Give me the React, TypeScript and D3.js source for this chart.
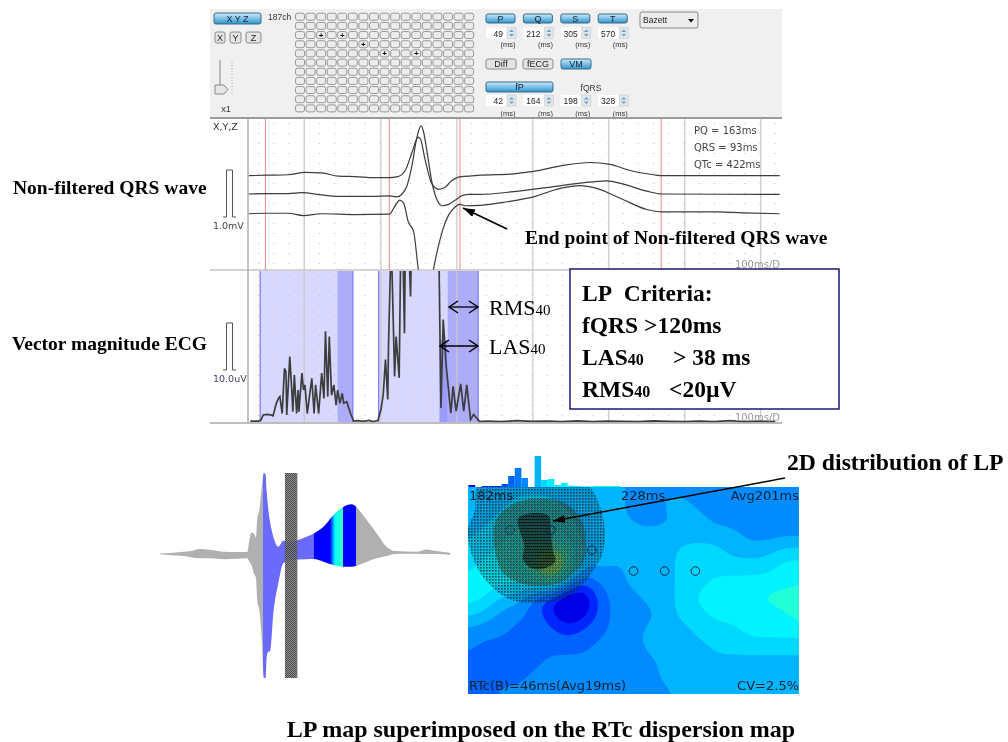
import * as d3 from "d3";

// R-T timing markers and other labels
const markerLines = [49, 212, 305, 570];
const timeGridLines = [100, 201, 301, 401, 501, 601, 701];
const resultLabels = ["PQ = 163ms", "QRS = 93ms", "QTc = 422ms"];
const waveButtons = ["P", "Q", "S", "T"];
const waveValues = ["49", "212", "305", "570"];
const filterValues = ["42", "164", "198", "328"];
const markedChannels = [[2, 2], [2, 4], [3, 6], [4, 8], [4, 11]];

// non-filtered X, Y, Z traces (ms, mV from each trace's own baseline)
const traceATimes = [27, 50, 79, 101, 123, 145, 167, 193, 212, 223, 233, 242, 250, 253, 259, 268, 277, 286, 294, 303, 332, 376, 402, 441, 476, 503, 529, 560, 571, 726];
const traceAValues = [0, 0.01, 0.02, 0.07, 0.06, -0.01, -0.02, -0.04, -0.04, -0.02, 0.11, 0.5, 0.82, 0.78, 0.35, -0.17, -0.29, -0.24, -0.11, -0.03, 0.01, 0.04, 0.09, 0.22, 0.28, 0.24, 0.11, 0.02, 0, 0];
const traceBTimes = [27, 50, 79, 97, 123, 145, 189, 212, 222, 228, 235, 242, 248, 254, 257, 261, 268, 275, 281, 290, 299, 307, 316, 332, 376, 419, 463, 498, 520, 551, 571, 726];
const traceBValues = [0, 0.01, 0.01, 0.03, -0.02, -0.05, -0.05, -0.04, -0.06, -0.01, 0.16, 0.62, 1.18, 1.45, 1.33, 0.97, 0.26, -0.13, -0.25, -0.22, -0.13, -0.04, -0.01, -0.01, 0.05, 0.135, 0.23, 0.28, 0.21, 0.06, 0, -0.01];
const traceCTimes = [27, 50, 79, 99, 123, 167, 212, 220, 226, 231, 237, 244, 250, 254, 264, 270, 277, 283, 290, 299, 305, 312, 332, 367, 402, 437, 463, 485, 516, 551, 571, 639, 678, 726];
const traceCValues = [0, 0.01, 0.01, -0.04, 0, -0.02, -0.01, 0.18, 0.29, 0.22, -0.17, -0.38, -1.16, -1.66, -1.87, -1.2, -0.67, -0.31, -0.03, 0.15, 0.2, 0.17, 0.18, 0.255, 0.36, 0.54, 0.6, 0.54, 0.33, 0.09, 0.04, 0.04, 0.02, 0];

// vector magnitude ECG (ms, uV)
const vmTimes = [29, 40, 43, 46, 51, 56, 59, 63, 66, 68, 71, 74, 76, 77, 81, 84, 85, 87, 90, 92, 93, 97, 99, 101, 104, 110, 113, 115, 119, 123, 126, 128, 131, 133, 136, 139, 142, 144, 147, 150, 152, 156, 161, 165, 170, 178, 186, 190, 197, 201, 204, 207, 210, 211, 214, 215, 219, 221, 225, 227, 230, 232, 233, 238, 240, 241, 260, 277, 280, 283, 287, 293, 296, 300, 306, 310, 314, 319, 323, 331, 340, 360, 380, 400, 420, 440, 460, 480, 500, 520, 540, 560, 580, 600, 620, 640, 660, 680, 700, 720];
const vmValues = [0.2, 0.2, 0.4, 1.5, 1.6, 1.5, 1.3, 3.8, 5, 5.4, 1.8, 11.4, 10.7, 1.5, 13.9, 5.7, 2.2, 10, 1.8, 6.8, 2.2, 10.4, 6.8, 7.9, 1.8, 9.3, 1.8, 7.9, 1.8, 10.4, 5, 19.3, 5.4, 18.2, 5.7, 7.9, 3.6, 6.8, 4, 6.1, 4, 4.3, 1.8, 0.2, 0.3, 0.15, 0.35, 0.1, 0.3, 2.6, 5.8, 13.3, 4.8, 16.5, 36, 36, 9.7, 18.2, 9.4, 36, 36, 18.9, 36, 36, 26.7, 36, 80, 40, 3, 21.8, 11.8, 1.9, 7.6, 2.3, 8.1, 2.3, 7.9, 0.5, 1.6, 0.1, 0.2, 0.1, 0.3, 0.15, 0.2, 0.1, 0.25, 0.1, 0.2, 0.15, 0.1, 0.25, 0.15, 0.1, 0.2, 0.1, 0.3, 0.1, 0.2, 0.1];

// filtered windows on the VM panel: [start, end] and the shaded terminal part (ms)
const fpWindow = [42, 164];
const fpTerminal = [144, 164];
const fqrsWindow = [198, 329];
const lasStart = 278;
const rmsStart = 289;

// butterfly waveform envelope (ms, amplitude)
const waveTimes = [2, 26, 58, 78, 98, 127, 155, 187, 213, 218, 223, 229, 234, 237, 242, 248, 253, 257, 260, 264, 268, 276, 288, 300, 316, 356, 374, 397, 421, 445, 465, 475, 493, 526, 550, 570, 622, 646, 671, 703];
const waveUpper = [0.7, 1, 2.3, 3, 5, 4, 2.3, 2, 2, 14, 21.7, 20.7, 16.7, 35.7, 44, 67.3, 81.3, 80, 62.3, 44, 32.3, 17.3, 7.3, 13.3, 12.3, 17.3, 20.7, 27.3, 39, 47.3, 50, 48, 39, 20.7, 7.3, 3, 2.3, 4.7, 3, 1.3];
const waveLower = [0, -1.3, -2, -3.3, -4.3, -4.3, -5.3, -4.7, -4.3, -7.7, -11, -19.3, -24.3, -46, -56, -86, -124.3, -124.3, -102.7, -97.7, -97.7, -59.3, -29.3, -9.3, -6, -5.3, -5, -7.7, -11, -12.7, -12.7, -12, -9.3, -4.3, -2, 0, 0.3, 0, 0, -1];
const waveStrip = [304, 334];

// RTc dispersion map, colour level per grid point
const mapColumns = 21;
const mapRows = 14;
const mapGrid = [
  4, 4, 4, 4, 4, 4, 4, 4, 4, 4, 3, 3, 3, 3, 3, 3, 3, 3, 3, 3, 3,
  4, 4, 4, 5, 5, 5, 4, 4, 4, 4, 3, 3, 4, 4, 3, 3, 3, 3, 3, 3, 3,
  4, 4, 5, 5, 5, 5, 5, 4, 4, 4, 3, 3, 3, 4, 4, 3, 3, 3, 3, 3, 3,
  4, 5, 5, 6, 6, 6, 5, 4, 4, 5, 4, 4, 4, 4, 4, 4, 4, 3, 3, 3, 3,
  5, 5, 6, 6, 7, 8, 7, 4, 4, 4, 4, 4, 4, 5, 5, 5, 4, 4, 4, 5, 5,
  5, 6, 6, 6, 7, 11, 8, 3, 4, 3, 4, 4, 4, 5, 5, 5, 5, 5, 5, 6, 6,
  6, 6, 6, 6, 5, 8, 3, 1, 3, 3, 4, 4, 4, 5, 5, 6, 6, 6, 6, 6, 6,
  6, 6, 4, 4, 2, 0, -1, -1, 2, 3, 3, 4, 4, 5, 6, 6, 6, 6, 7, 7, 8,
  5, 4, 3, 3, 2, 1, -1, 0, 2, 3, 3, 3, 4, 5, 5, 6, 6, 6, 6, 6, 7,
  3, 3, 3, 2, 2, 2, 1, 2, 2, 3, 3, 4, 4, 4, 5, 5, 5, 6, 6, 6, 6,
  3, 2, 2, 2, 2, 2, 2, 2, 3, 3, 3, 4, 4, 4, 4, 5, 5, 5, 5, 5, 5,
  2, 2, 2, 2, 2, 3, 3, 3, 3, 3, 3, 3, 4, 4, 4, 4, 4, 4, 4, 4, 4,
  2, 2, 2, 2, 3, 3, 3, 3, 3, 3, 3, 3, 4, 4, 4, 4, 4, 4, 4, 4, 4,
  2, 2, 3, 3, 3, 3, 3, 3, 3, 3, 3, 3, 3, 4, 4, 4, 4, 4, 4, 4, 4,
];
const mapLevels = [-2, 0.6, 1.5, 2.5, 3.5, 4.5, 5.5, 6.5, 7.5, 8.5];
const mapColors = ["#0000e6", "#0028ff", "#0064ff", "#008cff", "#00b4ff", "#00d8ff", "#00f4ff", "#20ffd8", "#80ff70", "#e8d010"];

// LP overlay outlines in percent of the map
const lpOuter = [[0, 20], [2, 12], [3.6, -2], [35, -2], [40.4, 12], [41, 30], [38.4, 39], [31.3, 52], [22.3, 56], [12.2, 54], [4.1, 42.5], [0.6, 29.6]];
const lpMiddle = [[8.2, 16.8], [12.2, 9.5], [19.2, 5.8], [28.3, 7.1], [33.3, 13.5], [35.1, 20], [35.1, 34.5], [32.3, 41], [27.3, 46.5], [18.2, 47.3], [11.2, 42.5], [8.7, 34.5]];
const lpInner = [[15.2, 15.1], [19.2, 12.7], [24.3, 13.8], [25, 20], [25.5, 29.6], [26.3, 36], [23.3, 39.3], [19.2, 39.3], [16.7, 35.3], [17, 28], [15.7, 21.6]];
const lpSites = [[50, 40.6], [59.4, 40.6], [68.7, 40.6], [37.4, 30.5], [25, 20.8], [12.7, 20.8]];

// histogram above the map
const histCounts = [2, 0, 1, 1, 1, 3, 11, 19, 9, 0, 31, 7, 8, 2, 4, 1.5, 1, 0.6, 0.6, 1, 1, 1, 1];
const histColors = ["#0000e6", "#0000e6", "#0028ff", "#0028ff", "#0028ff", "#0050ff", "#0064ff", "#0078ff", "#0088ff", "#008cff", "#00b4ff", "#00d8ff", "#00f0ff", "#00f0ff", "#00f4ff", "#00f4ff", "#00f4ff", "#00f4ff", "#00ffe0", "#20ffc0", "#20ffc0", "#20ffc0", "#20ffc0"];

const sans = "'DejaVu Sans', sans-serif";
const ui = "'Liberation Sans', sans-serif";
const serif = "'Liberation Serif', serif";

const x = d3.scaleLinear().domain([26, 729]).range([248, 782]);
const yEcg = d3.scaleLinear().domain([-1, 1]).range([241, 147]);
const yVm = d3.scaleLinear().domain([0, 10]).range([422, 375]);
const xWave = d3.scaleLinear().domain([2, 703]).range([160, 450]);
const yWave = d3.scaleLinear().domain([-124.3, 81.3]).range([678, 473]);
const xPct = d3.scaleLinear().domain([0, 100]).range([468, 799]);
const yPct = d3.scaleLinear().domain([0, 100]).range([487, 694]);
const xHist = d3.scaleBand().domain(histCounts.map((_, i) => String(i))).range([468.5, 620.5]);
const yHist = d3.scaleLinear().domain([0, 30]).range([487, 457]);

const makeLine = (times: number[], offset: number) =>
  d3.line<number>().x((_, i) => x(times[i])).y(d => yEcg(d + offset)).curve(d3.curveMonotoneX);

const vmLine = d3.line<number>().x((_, i) => x(vmTimes[i])).y(d => yVm(d));

const waveArea = d3.area<number>()
  .x((_, i) => xWave(waveTimes[i]))
  .y0((_, i) => yWave(waveLower[i]))
  .y1(d => yWave(d))
  .curve(d3.curveMonotoneX);

const outline = d3.line<number[]>().x(d => xPct(d[0])).y(d => yPct(d[1])).curve(d3.curveCatmullRomClosed);

// the map is resampled 4x and blurred so the contour bands come out round like the original
const zoomFactor = 4;
const fineW = (mapColumns - 1) * zoomFactor + 1;
const fineH = (mapRows - 1) * zoomFactor + 1;
const fine = new Float64Array(fineW * fineH);
for (let j = 0; j < fineH; j++) {
  for (let i = 0; i < fineW; i++) {
    const c = i / zoomFactor, r = j / zoomFactor;
    const c0 = Math.min(Math.floor(c), mapColumns - 2), r0 = Math.min(Math.floor(r), mapRows - 2);
    const fc = c - c0, fr = r - r0;
    const at = (a: number, b: number) => mapGrid[b * mapColumns + a];
    fine[j * fineW + i] = (1 - fr) * ((1 - fc) * at(c0, r0) + fc * at(c0 + 1, r0)) + fr * ((1 - fc) * at(c0, r0 + 1) + fc * at(c0 + 1, r0 + 1));
  }
}
d3.blur2({ data: fine, width: fineW, height: fineH }, 1.5);

const xFine = d3.scaleLinear().domain([0.5, fineW - 0.5]).range([468, 799]);
const yFine = d3.scaleLinear().domain([0.5, fineH - 0.5]).range([487, 694]);
const contours = d3.contours().size([fineW, fineH]).thresholds(mapLevels)(Array.from(fine));
const gridPath = d3.geoPath(d3.geoTransform({
  point(px, py) { this.stream.point(xFine(px), yFine(py)); },
}));

const dotTimes = d3.range(40, 729, 20);

const BlueBtn = ({ x0, y0, w, h, label }: any) => (
  <g>
    <rect x={x0} y={y0} width={w} height={h} rx={2} fill="url(#blueBtn)" stroke="#356a88" />
    <text x={x0 + w / 2} y={y0 + h / 2 + 3} fontSize={9} textAnchor="middle" fill="#123" fontFamily={ui}>{label}</text>
  </g>
);

const GrayBtn = ({ x0, y0, w, h, label }: any) => (
  <g>
    <rect x={x0} y={y0} width={w} height={h} rx={2} fill="#e4e4e4" stroke="#8b8b8b" />
    <text x={x0 + w / 2} y={y0 + h / 2 + 3} fontSize={9} textAnchor="middle" fill="#222" fontFamily={ui}>{label}</text>
  </g>
);

const Spin = ({ x0, y0, value }: any) => (
  <g>
    <rect x={x0} y={y0} width={26} height={11} fill="#fff" />
    <text x={x0 + 17} y={y0 + 9} fontSize={8.5} textAnchor="end" fill="#222" fontFamily={ui}>{value}</text>
    <rect x={x0 + 21} y={y0} width={9} height={11} fill="#dfe6ea" stroke="#c4c4c4" strokeWidth={0.5} />
    <path d={`M${x0 + 23} ${y0 + 4.5}l2.5 -2.5l2.5 2.5zM${x0 + 23} ${y0 + 6.5}l2.5 2.5l2.5 -2.5z`} fill="#6aa3c4" />
  </g>
);

const ScaleBar = ({ top, bottom }: any) => (
  <path d={`M223 ${bottom}h3.5V${top}h6V${bottom}h3.5`} fill="none" stroke="#555" strokeWidth={1} />
);

const Toolbar = () => (
  <g>
    <rect x={210} y={9} width={572} height={109} fill="#f0f0f0" />
    <BlueBtn x0={214} y0={13} w={47} h={11} label="X Y Z" />
    <GrayBtn x0={215} y0={32} w={10} h={11} label="X" />
    <GrayBtn x0={230} y0={32} w={11} h={11} label="Y" />
    <GrayBtn x0={246} y0={32} w={15} h={11} label="Z" />
    <line x1={220} x2={220} y1={60} y2={90} stroke="#bbb" strokeWidth={2} />
    <line x1={232} x2={232} y1={62} y2={94} stroke="#aaa" strokeDasharray="1 2" />
    <path d="M215 85h9l4 4.5l-4 4.5h-9z" fill="#e6e6e6" stroke="#888" />
    <text x={226} y={112} fontSize={9} textAnchor="middle" fill="#333" fontFamily={ui}>x1</text>
    <text x={268} y={20} fontSize={8.5} fill="#333" fontFamily={ui}>187ch</text>
    {d3.range(11).map(r => d3.range(17).map(c => (
      <rect key={`${r}-${c}`} x={295.5 + c * 10.57} y={13.2 + r * 9.17} width={9} height={7} rx={2} fill="#ececec" stroke="#8e8e8e" strokeWidth={0.9} />
    )))}
    {markedChannels.map(([r, c]) => (
      <text key={`m${r}-${c}`} x={300 + c * 10.57} y={19.6 + r * 9.17} fontSize={8} fontWeight="bold" textAnchor="middle" fill="#111" fontFamily={ui}>+</text>
    ))}
    {waveButtons.map((b, i) => (
      <g key={b}>
        <BlueBtn x0={486 + i * 37.4} y0={14} w={29} h={9} label={b} />
        <Spin x0={486 + i * 37.4} y0={27.5} value={waveValues[i]} />
        <text x={508 + i * 37.4} y={47} fontSize={7.5} textAnchor="middle" fill="#333" fontFamily={ui}>(ms)</text>
      </g>
    ))}
    <rect x={640} y={12} width={58} height={16} rx={2} fill="#ececec" stroke="#888" />
    <text x={643} y={23} fontSize={8.5} fill="#222" fontFamily={ui}>Bazett</text>
    <path d="M688 19h6l-3 3.5z" fill="#111" />
    <GrayBtn x0={486} y0={59} w={30} h={10} label="Diff" />
    <GrayBtn x0={523} y0={59} w={30} h={10} label="fECG" />
    <BlueBtn x0={561} y0={59} w={30} h={10} label="VM" />
    <BlueBtn x0={486} y0={82} w={67} h={10} label="fP" />
    <text x={591} y={91} fontSize={8.5} textAnchor="middle" fill="#333" fontFamily={ui}>fQRS</text>
    {filterValues.map((v, i) => (
      <g key={v}>
        <Spin x0={486 + i * 37.4} y0={95} value={v} />
        <text x={508 + i * 37.4} y={116} fontSize={7.5} textAnchor="middle" fill="#333" fontFamily={ui}>(ms)</text>
      </g>
    ))}
  </g>
);

const PanelGrid = ({ top, bottom }: any) => (
  <g>
    {dotTimes.map(t => (
      <line key={t} x1={x(t)} x2={x(t)} y1={top + 4} y2={bottom} stroke="#bdbdbd" strokeDasharray="1 9" />
    ))}
    {timeGridLines.map(t => (
      <line key={t} x1={x(t)} x2={x(t)} y1={top} y2={bottom} stroke="#c8c8c8" strokeWidth={1.2} />
    ))}
  </g>
);

const App = () => {
  const blueStart = (t: number) => (t - 2) / 701;
  const stops: [number, string][] = [
    [blueStart(251), "#b0b0b0"], [blueStart(251), "#6a6aff"],
    [blueStart(374), "#6a6aff"], [blueStart(374), "#0000ff"],
    [blueStart(413), "#0000ff"], [blueStart(425), "#00ffff"],
    [blueStart(445), "#40ffb0"], [blueStart(445), "#0000ff"],
    [blueStart(475), "#0000ff"], [blueStart(475), "#b0b0b0"],
  ];

  return (
    <svg width={1008} height={742} style={{ position: "absolute", left: 0, top: 0, background: "#fff" }}>
      <defs>
        <filter id="soft" x="0" y="0" width="100%" height="100%">
          <feGaussianBlur stdDeviation={0.35} />
        </filter>
        <linearGradient id="blueBtn" x1="0" x2="0" y1="0" y2="1">
          <stop offset="0" stopColor="#cfeafa" />
          <stop offset="0.5" stopColor="#7cc0e6" />
          <stop offset="1" stopColor="#2f92c9" />
        </linearGradient>
        <linearGradient id="waveFill" gradientUnits="userSpaceOnUse" x1={160} x2={450} y1={0} y2={0}>
          <stop offset={0} stopColor="#b0b0b0" />
          {stops.map(([o, c], i) => <stop key={i} offset={o} stopColor={c} />)}
          <stop offset={1} stopColor="#b0b0b0" />
        </linearGradient>
        <pattern id="stripDots" width={2} height={2} patternUnits="userSpaceOnUse">
          <rect width={2} height={2} fill="#808080" />
          <rect width={1} height={1} fill="#3c3c3c" />
          <rect x={1} y={1} width={1} height={1} fill="#3c3c3c" />
        </pattern>
        <pattern id="lpOuterDots" width={3} height={3} patternUnits="userSpaceOnUse">
          <rect width={3} height={3} fill="#103040" fillOpacity={0.2} />
          <rect width={1.6} height={1.6} fill="#0d2630" fillOpacity={0.75} />
        </pattern>
        <pattern id="lpMiddleDots" width={2} height={2} patternUnits="userSpaceOnUse">
          <rect width={2} height={2} fill="#5a5020" fillOpacity={0.3} />
          <rect width={1} height={1} fill="#1c2c24" fillOpacity={0.45} />
          <rect x={1} y={1} width={1} height={1} fill="#1c2c24" fillOpacity={0.45} />
        </pattern>
        <pattern id="lpInnerDots" width={3} height={3} patternUnits="userSpaceOnUse">
          <rect width={3} height={3} fill="#0c1c18" fillOpacity={0.55} />
          <rect width={3} height={1} fill="#050a08" fillOpacity={0.6} />
        </pattern>
        <clipPath id="ecgClip"><rect x={248} y={119} width={534} height={151} /></clipPath>
        <clipPath id="vmClip"><rect x={248} y={271} width={534} height={152} /></clipPath>
        <clipPath id="mapClip"><rect x={468} y={487} width={331} height={207} /></clipPath>
        <marker id="solidHead" markerWidth={14} markerHeight={10} refX={12} refY={4} orient="auto" markerUnits="userSpaceOnUse">
          <path d="M0 0L12 4L0 8z" fill="#000" />
        </marker>
        <marker id="openHead" markerWidth={12} markerHeight={14} refX={10} refY={7} orient="auto-start-reverse" markerUnits="userSpaceOnUse">
          <path d="M1 1L10 7L1 13" fill="none" stroke="#000" strokeWidth={1.5} />
        </marker>
      </defs>

      <g filter="url(#soft)">
        <Toolbar />

        {/* non-filtered panel */}
        <PanelGrid top={119} bottom={270} />
        {markerLines.map(t => (
          <line key={t} x1={x(t)} x2={x(t)} y1={119} y2={270} stroke="#f29a9a" strokeWidth={1.2} />
        ))}
        <g clipPath="url(#ecgClip)" fill="none" stroke="#3c3c3c" strokeWidth={1.2}>
          <path d={makeLine(traceATimes, 0.39)(traceAValues) ?? ""} />
          <path d={makeLine(traceBTimes, 0)(traceBValues) ?? ""} />
          <path d={makeLine(traceCTimes, -0.42)(traceCValues) ?? ""} />
        </g>
        <text x={213} y={130} fontSize={9.5} fill="#333" fontFamily={sans}>X,Y,Z</text>
        <ScaleBar top={yEcg(1) + 23} bottom={yEcg(0) + 23} />
        <text x={213} y={229} fontSize={9.5} fill="#444" fontFamily={sans}>1.0mV</text>
        {resultLabels.map((t, i) => (
          <text key={t} x={694} y={134 + i * 17} fontSize={10} fill="#444" fontFamily={sans}>{t}</text>
        ))}
        <text x={780} y={268} fontSize={10} textAnchor="end" fill="#999" fontFamily={sans}>100ms/D</text>

        {/* vector magnitude panel */}
        <rect x={x(fpWindow[0])} y={271} width={x(fpWindow[1]) - x(fpWindow[0])} height={151} fill="#d8d8ff" />
        <rect x={x(fpTerminal[0])} y={271} width={x(fpTerminal[1]) - x(fpTerminal[0])} height={151} fill="#acacf8" />
        <rect x={x(fqrsWindow[0])} y={271} width={x(fqrsWindow[1]) - x(fqrsWindow[0])} height={151} fill="#d8d8ff" />
        <rect x={x(lasStart)} y={340} width={x(rmsStart) - x(lasStart)} height={82} fill="#9a9aff" />
        <rect x={x(rmsStart)} y={271} width={x(fqrsWindow[1]) - x(rmsStart)} height={151} fill="#acacf8" />
        <PanelGrid top={271} bottom={422} />
        {[fpWindow[0], fpWindow[1], fqrsWindow[0], fqrsWindow[1]].map(t => (
          <line key={t} x1={x(t)} x2={x(t)} y1={271} y2={422} stroke="#7a7aff" strokeWidth={1.2} />
        ))}
        <g clipPath="url(#vmClip)">
          <path d={vmLine(vmValues) ?? ""} fill="none" stroke="#3e3e3e" strokeWidth={1.7} />
        </g>
        <ScaleBar top={yVm(10) - 52} bottom={yVm(0) - 52} />
        <text x={213} y={382} fontSize={9.5} fill="#446" fontFamily={sans}>10.0uV</text>
        <text x={780} y={421} fontSize={10} textAnchor="end" fill="#999" fontFamily={sans}>100ms/D</text>

        <line x1={248} x2={248} y1={119} y2={423} stroke="#b0b0b0" strokeWidth={1.5} />
        <line x1={210} x2={782} y1={118} y2={118} stroke="#9a9a9a" strokeWidth={2} />
        <line x1={210} x2={782} y1={270} y2={270} stroke="#a8a8a8" strokeWidth={1.2} />
        <line x1={210} x2={782} y1={423} y2={423} stroke="#a8a8a8" strokeWidth={1.5} />

        {/* butterfly waveform */}
        <path d={waveArea(waveUpper) ?? ""} fill="url(#waveFill)" />
        <rect x={xWave(waveStrip[0])} y={473} width={xWave(waveStrip[1]) - xWave(waveStrip[0])} height={205} fill="url(#stripDots)" fillOpacity={0.9} />

        {/* histogram and map */}
        {histCounts.map((c, i) => (
          <rect key={i} x={xHist(String(i))} y={yHist(c)} width={xHist.bandwidth()} height={487 - yHist(c)} fill={histColors[i]} />
        ))}
        <g clipPath="url(#mapClip)">
          <rect x={468} y={487} width={331} height={207} fill={mapColors[0]} />
          {contours.map((c, i) => (
            <path key={i} d={gridPath(c as any) ?? ""} fill={mapColors[i]} />
          ))}
          <path d={outline(lpOuter) ?? ""} fill="url(#lpOuterDots)" />
          <path d={outline(lpMiddle) ?? ""} fill="url(#lpMiddleDots)" />
          <path d={outline(lpInner) ?? ""} fill="url(#lpInnerDots)" />
        </g>
        {lpSites.map(([a, b], i) => (
          <circle key={i} cx={xPct(a)} cy={yPct(b)} r={4.3} fill="none" stroke="#0a2a40" strokeWidth={1} strokeDasharray={i === 5 ? "2 1.5" : undefined} />
        ))}
        <text x={469} y={500} fontSize={13} fill="#123" fontFamily={sans}>182ms</text>
        <text x={621} y={500} fontSize={13} fill="#123" fontFamily={sans}>228ms</text>
        <text x={799} y={500} fontSize={13} textAnchor="end" fill="#123" fontFamily={sans}>Avg201ms</text>
        <text x={469} y={690} fontSize={13} fill="#123" fontFamily={sans}>RTc(B)=46ms(Avg19ms)</text>
        <text x={799} y={690} fontSize={13} textAnchor="end" fill="#123" fontFamily={sans}>CV=2.5%</text>
      </g>

      {/* annotations */}
      <line x1={507} y1={229} x2={463} y2={208} stroke="#000" strokeWidth={1.6} markerEnd="url(#solidHead)" />
      <line x1={449} x2={478} y1={307} y2={307} stroke="#000" strokeWidth={1.3} markerStart="url(#openHead)" markerEnd="url(#openHead)" />
      <line x1={440} x2={478} y1={346} y2={346} stroke="#000" strokeWidth={1.3} markerStart="url(#openHead)" markerEnd="url(#openHead)" />
      <line x1={785} y1={478} x2={553} y2={521} stroke="#000" strokeWidth={1.4} markerEnd="url(#solidHead)" />

      <g fontFamily={serif}>
        <g fontWeight="bold" fontSize={19.5}>
          <text x={13} y={194}>Non-filtered QRS wave</text>
          <text x={12} y={350}>Vector magnitude ECG</text>
          <text x={525} y={244}>End point of Non-filtered QRS wave</text>
          <text x={787} y={470} fontSize={23.7}>2D distribution of LP</text>
          <text x={541} y={737} fontSize={24} textAnchor="middle">LP map superimposed on the RTc dispersion map</text>
        </g>
        <text x={489} y={315} fontSize={22}>RMS<tspan fontSize={15}>40</tspan></text>
        <text x={489} y={354} fontSize={22}>LAS<tspan fontSize={15}>40</tspan></text>

        <rect x={570} y={269} width={269} height={140} fill="#fff" stroke="#1a1a70" strokeWidth={1.5} />
        <g fontWeight="bold" fontSize={23.5}>
          <text x={582} y={301}>LP{"\u00a0\u00a0"}Criteria:</text>
          <text x={582} y={333}>fQRS &gt;120ms</text>
          <text x={582} y={365}>LAS<tspan fontSize={16}>40</tspan></text>
          <text x={673} y={365}>&gt; 38 ms</text>
          <text x={582} y={397}>RMS<tspan fontSize={16}>40</tspan></text>
          <text x={669} y={397}>&lt;20µV</text>
        </g>
      </g>
    </svg>
  );
};

export default App;
